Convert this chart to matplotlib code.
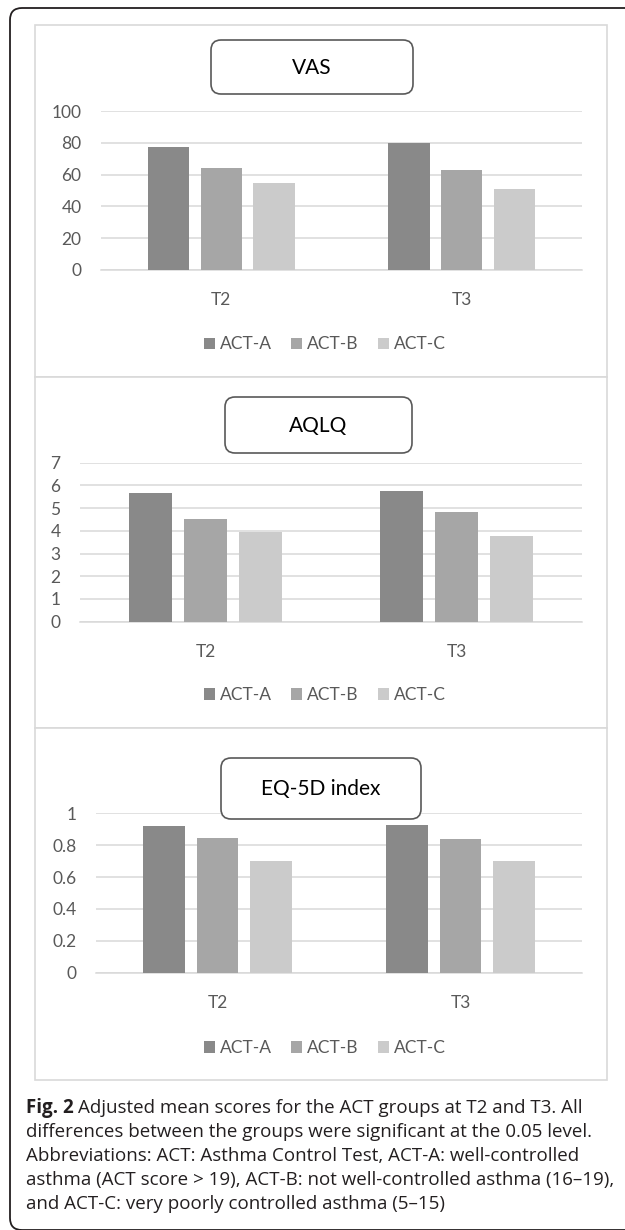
import matplotlib
matplotlib.use("Agg")
import matplotlib.pyplot as plt
from matplotlib.patches import FancyBboxPatch, Rectangle
from matplotlib.ticker import FuncFormatter
import numpy as np

plt.rcParams['font.family'] = ['Lato', 'DejaVu Sans']

W, H = 625, 1230

# data
groups = ["ACT-A", "ACT-B", "ACT-C"]
times = ["T2", "T3"]
colors = ["#898989", "#a6a6a6", "#cbcbcb"]

titles = ["VAS", "AQLQ", "EQ-5D index"]
vas = [[77.3, 79.8], [64.2, 62.7], [54.5, 51.2]]      # rows: ACT-A, ACT-B, ACT-C; cols: T2, T3
aqlq = [[5.65, 5.77], [4.54, 4.83], [3.95, 3.79]]
eq5d = [[0.920, 0.925], [0.845, 0.839], [0.701, 0.701]]
yticks = [np.arange(0, 101, 20), np.arange(0, 8, 1), np.linspace(0, 1, 6)]

caption = [
    "Adjusted mean scores for the ACT groups at T2 and T3. All",
    "differences between the groups were significant at the 0.05 level.",
    "Abbreviations: ACT: Asthma Control Test, ACT-A: well-controlled",
    "asthma (ACT score > 19), ACT-B: not well-controlled asthma (16\u201319),",
    "and ACT-C: very poorly controlled asthma (5\u201315)",
]

# layout in pixels (top-left origin)
panel_box = [(25, 377), (377, 728), (728, 1080)]
plot_box = [(101, 111, 582, 270), (80, 462.7, 582, 621.7), (96, 813.3, 582, 972.7)]
title_box = [(211, 40, 413, 94), (225, 397, 412, 453), (221, 758, 421, 819)]
legend_y = [344.5, 695, 1048]
legend_x = 325


def frac(x0, y0, x1, y1):
    return [x0 / W, 1 - y1 / H, (x1 - x0) / W, (y1 - y0) / H]


fig = plt.figure(figsize=(W / 100, H / 100), dpi=100)

bg = fig.add_axes([0, 0, 1, 1], zorder=-1)
bg.set_xlim(0, W)
bg.set_ylim(H, 0)
bg.axis('off')

ov = fig.add_axes([0, 0, 1, 1], zorder=5)
ov.set_xlim(0, W)
ov.set_ylim(H, 0)
ov.axis('off')
ov.patch.set_alpha(0)

# outer frame, open on the right
bg.add_patch(FancyBboxPatch((10, 8), 700, 1222, boxstyle="round,pad=0,rounding_size=12",
                            fc='white', ec='#231f20', lw=1.3))

for (t, b) in panel_box:
    bg.add_patch(Rectangle((35, t), 572, b - t, fc='white', ec='#d9d9d9', lw=1.2))

series = [vas, aqlq, eq5d]
x = np.arange(len(times))
offsets = [-0.22, 0.0, 0.22]

for i in range(3):
    ax = fig.add_axes(frac(*plot_box[i]))
    ax.set_facecolor('none')
    for g in range(3):
        ax.bar(x + offsets[g], series[i][g], 0.172, color=colors[g],
               label=groups[g], zorder=3)
    ax.set_xlim(-0.5, 1.5)
    ax.set_ylim(yticks[i][0], yticks[i][-1])
    ax.set_yticks(yticks[i])
    ax.yaxis.set_major_formatter(FuncFormatter(lambda v, p: f"{v:g}"))
    ax.set_xticks(x)
    ax.set_xticklabels(times)
    ax.grid(axis='y', color='#d9d9d9', lw=1.1, zorder=0)
    for s in ['top', 'right', 'left']:
        ax.spines[s].set_visible(False)
    ax.spines['bottom'].set_color('#d9d9d9')
    ax.spines['bottom'].set_linewidth(1.1)
    ax.tick_params(axis='y', length=0, pad=14, labelsize=12.5, labelcolor='#595959')
    ax.tick_params(axis='x', length=0, pad=16, labelsize=12.5, labelcolor='#595959')

    ax.legend(loc='center', bbox_to_anchor=(legend_x / W, 1 - legend_y[i] / H),
              bbox_transform=fig.transFigure, ncol=3, frameon=False, fontsize=12.5,
              handlelength=0.63, handleheight=0.63, handletextpad=0.3,
              columnspacing=1.1, borderpad=0, labelcolor='#595959')

    x0, y0, x1, y1 = title_box[i]
    ov.add_patch(FancyBboxPatch((x0, y0), x1 - x0, y1 - y0,
                                boxstyle="round,pad=0,rounding_size=10",
                                fc='white', ec='#595959', lw=1.2))
    ov.text((x0 + x1) / 2, (y0 + y1) / 2 + 1, titles[i], ha='center', va='center',
            fontsize=15, color='black')

# caption
cap_font = ['Open Sans', 'DejaVu Sans']
cap_size = 13.5
base0 = 1113
step = 24
fig.canvas.draw()
renderer = fig.canvas.get_renderer()
lbl = bg.text(26, base0, "Fig. 2", fontsize=cap_size, fontweight='bold', family=cap_font,
              color='#231f20', va='baseline', ha='left')
bb = lbl.get_window_extent(renderer)
xstart = bb.x1 + 4
bg.text(xstart, base0, caption[0], fontsize=cap_size, family=cap_font, color='#231f20',
        va='baseline', ha='left')
for k, line in enumerate(caption[1:], start=1):
    bg.text(26, base0 + k * step, line, fontsize=cap_size, family=cap_font, color='#231f20',
            va='baseline', ha='left')

fig.savefig("out.png", dpi=100)
